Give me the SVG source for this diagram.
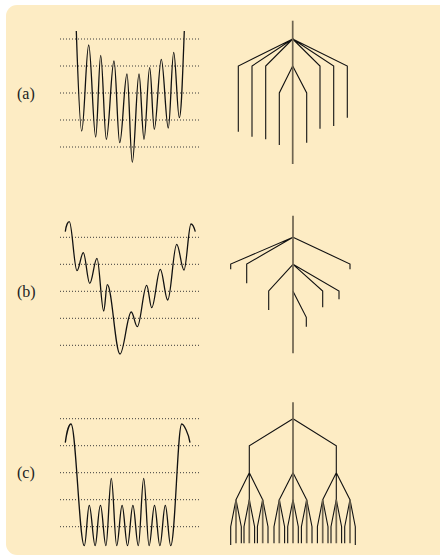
<svg xmlns="http://www.w3.org/2000/svg" width="440" height="557" viewBox="0 0 440 557">
<defs>
<style>
.bg{fill:#fdecc4;stroke:none}
.dot{stroke:#3a3a3a;stroke-width:1;stroke-dasharray:1 2;fill:none}
.curve{stroke:#111;stroke-width:1.3;fill:none;stroke-linejoin:round}
.br{stroke:#111;stroke-width:1.1;fill:none;stroke-linejoin:miter}
.trunk{stroke:#6e6450;stroke-width:1.7;fill:none}
.lbl{font-family:"Liberation Serif","Times New Roman",serif;font-size:16px;fill:#222}
</style>
</defs>
<rect class="bg" x="6" y="5" width="444" height="550" rx="11"/>

<g id="panel-a">
<text class="lbl" x="17" y="98.5">(a)</text>
<g class="dot-lines">
<line class="dot" x1="60" y1="39" x2="200" y2="39"/>
<line class="dot" x1="60" y1="66" x2="200" y2="66"/>
<line class="dot" x1="60" y1="93" x2="200" y2="93"/>
<line class="dot" x1="60" y1="120" x2="200" y2="120"/>
<line class="dot" x1="60" y1="147" x2="200" y2="147"/>
</g>
<path class="curve" d="M76.3,31 C77.8,75 79.7,131 81.7,131 C84.2,131 86.2,45 88.7,45 C91.2,45 93.2,137 95.7,137 C97.5,137 98.9,55.3 100.7,55.3 C102.7,55.3 104.3,139.3 106.3,139.3 C109.1,139.3 111.2,61 114,61 C116.1,61 117.6,142.7 119.7,142.7 C122.4,142.7 124.3,74 127,74 C128.9,74 130.4,162.3 132.3,162.3 C134.7,162.3 136.6,74 139,74 C140.8,74 142.2,139.3 144,139.3 C146.1,139.3 147.6,67.7 149.7,67.7 C151.4,67.7 152.6,129.3 154.3,129.3 C156.8,129.3 158.8,59.3 161.3,59.3 C163.8,59.3 165.8,128 168.3,128 C170.3,128 171.7,52.3 173.7,52.3 C175.7,52.3 177.3,117.7 179.3,117.7 C181.3,117.7 182.6,75 184.3,31"/>
</g>
<g id="tree-a">
<path class="br" d="M292.7,39 L238.3,66 V131.7 M292.7,39 L252,66 V136.7 M292.7,39 L265.7,66 V139.3 M292.7,39 L320,66 V128.7 M292.7,39 L333.7,66 V126 M292.7,39 L347.3,66 V117.7 M292.7,66 L279.3,93 V145 M292.7,66 L306.7,93 V142.7"/>
<path class="trunk" d="M292.7,20.7 V164"/>
</g>

<g id="panel-b">
<text class="lbl" x="17" y="296.5">(b)</text>
<line class="dot" x1="60" y1="237.3" x2="200" y2="237.3"/>
<line class="dot" x1="60" y1="264.3" x2="200" y2="264.3"/>
<line class="dot" x1="60" y1="291.3" x2="200" y2="291.3"/>
<line class="dot" x1="60" y1="318.3" x2="200" y2="318.3"/>
<line class="dot" x1="60" y1="345.3" x2="200" y2="345.3"/>
<path class="curve" d="M65.3,231.7 C66,226 67.8,221.7 69.3,221.7 C72.1,221.7 74.2,270.7 77,270.7 C79.3,270.7 81,252.7 83.3,252.7 C85.6,252.7 87.4,283.3 89.7,283.3 C92.4,283.3 94.3,258.3 97,258.3 C99.4,258.3 101.3,311 103.7,311 C105,311 106,284.7 107.3,284.7 C111.9,284.7 115.4,354 120,354 C124.1,354 127.2,312 131.3,312 C133.5,312 135.1,326.7 137.3,326.7 C140.7,326.7 143.3,285.3 146.7,285.3 C148.5,285.3 149.9,307.7 151.7,307.7 C154.8,307.7 157.2,269.3 160.3,269.3 C163,269.3 165,300 167.7,300 C171,300 173.4,244.3 176.7,244.3 C179.4,244.3 181.3,270 184,270 C186.5,270 188.5,224 191,224 C192.8,224 194,227 195.3,231.7"/>
</g>
<g id="tree-b">
<path class="br" d="M293,237.3 L230.7,264 V269.3 M293,237.3 L246.7,264 V283.3 M293,237.3 L350,264 V269.3 M293,264.3 L268.7,291 V310 M293,264.3 L322.7,291 V307.3 M293,264.3 L339,291 V299.3 M293,291.3 L306.3,317.3 V326.7"/>
<path class="trunk" d="M293,215.7 V353.3"/>
</g>

<g id="panel-c">
<text class="lbl" x="17" y="478">(c)</text>
<line class="dot" x1="60" y1="418.7" x2="200" y2="418.7"/>
<line class="dot" x1="60" y1="445.7" x2="200" y2="445.7"/>
<line class="dot" x1="60" y1="472.7" x2="200" y2="472.7"/>
<line class="dot" x1="60" y1="499.7" x2="200" y2="499.7"/>
<line class="dot" x1="60" y1="526.7" x2="200" y2="526.7"/>
<path class="curve" d="M65.3,442.7 C66.5,433 69,424 71,424 C75.8,424 79.5,545.7 84.3,545.7 C86.3,545.7 87.3,505.3 89.3,505.3 C91.3,505.3 93.1,545.7 95.1,545.7 C97.1,545.7 98.1,505.3 100.5,505.3 C102.5,505.3 103.9,545.7 105.9,545.7 C107.9,545.7 109.3,478.3 111.3,478.3 C113.3,478.3 114.7,545.7 116.7,545.7 C118.7,545.7 120.1,505.3 122.1,505.3 C124.1,505.3 125.5,545.7 127.5,545.7 C129.5,545.7 130.9,505.3 132.9,505.3 C134.9,505.3 136.3,545.7 138.3,545.7 C140.3,545.7 141.7,478.3 143.7,478.3 C145.7,478.3 147.1,545.7 149.1,545.7 C151.1,545.7 152.5,505.3 154.5,505.3 C156.5,505.3 157.9,545.7 159.9,545.7 C161.9,545.7 163.3,505.3 165.3,505.3 C167.3,505.3 168.7,545.7 170.7,545.7 C175,545.7 177.7,424 181.7,424 C183.7,424 188.5,433 190,442.7"/>
</g>
<g id="tree-c">
<path class="br" d="M293,418.7 L249.3,445.7 V472.7 M293,418.7 L336.3,445.7 V472.7
M249.3,472.7 L236,499.7 M249.3,472.7 L262.7,499.7 M249.3,472.7 V499.7
M293,472.7 L279.3,499.7 M293,472.7 L306.7,499.7
M336.3,472.7 L322.7,499.7 M336.3,472.7 L350,499.7 M336.3,472.7 V499.7"/>
<path class="br" d="M236,499.7 l-5.3,27 V545 M236,499.7 l5.3,27 V543.3 M249.3,499.7 l-5.3,27 V543.3 M249.3,499.7 l5.3,27 V543.3 M262.7,499.7 l-5.3,27 V543.3 M262.7,499.7 l5.3,27 V543.3 M279.3,499.7 l-5.3,27 V543.3 M279.3,499.7 l5.3,27 V543.3 M293,499.7 l-5.3,27 V543.3 M293,499.7 l5.3,27 V543.3 M306.7,499.7 l-5.3,27 V543.3 M306.7,499.7 l5.3,27 V543.3 M322.7,499.7 l-5.3,27 V543.3 M322.7,499.7 l5.3,27 V543.3 M336.3,499.7 l-5.3,27 V543.3 M336.3,499.7 l5.3,27 V543.3 M350,499.7 l-5.3,27 V543.3 M350,499.7 l5.3,27 V545"/>
<path class="trunk" d="M293,402.3 V543.3 M236,499.7 V543.3 M249.3,499.7 V543.3 M262.7,499.7 V543.3 M279.3,499.7 V543.3 M306.7,499.7 V543.3 M322.7,499.7 V543.3 M336.3,499.7 V543.3 M350,499.7 V543.3"/>
</g>
</svg>
